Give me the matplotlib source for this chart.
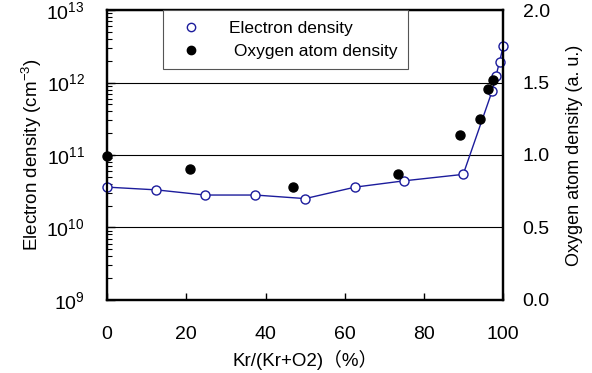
import matplotlib
matplotlib.use("Agg")
import matplotlib.pyplot as plt
from matplotlib.lines import Line2D

plt.rcParams['font.family'] = ['Liberation Sans', 'Noto Sans CJK JP', 'DejaVu Sans']
plt.rcParams['mathtext.fontset'] = 'custom'
plt.rcParams['mathtext.rm'] = 'Liberation Sans'
plt.rcParams['mathtext.it'] = 'Liberation Sans:italic'

# electron density (left axis, log)
kr_e = [0, 12.4, 24.7, 37.4, 50, 62.6, 75, 89.9, 97.2, 98.2, 99.1, 100]
ne = [3.6e10, 3.3e10, 2.8e10, 2.8e10, 2.5e10, 3.6e10, 4.4e10, 5.4e10,
      7.6e11, 1.25e12, 1.95e12, 3.2e12]

# oxygen atom density (right axis, a.u.)
kr_o = [0, 21, 47, 73.5, 89, 94.2, 96.2, 97.4]
no = [0.99, 0.90, 0.78, 0.87, 1.14, 1.25, 1.455, 1.52]

fig = plt.figure(figsize=(5.92, 3.73), dpi=100)
ax = fig.add_axes([0.181, 0.196, 0.669, 0.777])
ax2 = ax.twinx()

ax.set_yscale('log')
ax.set_ylim(1e9, 1e13)
ax.set_xlim(0, 100)
ax.set_xticks([0, 20, 40, 60, 80, 100])
ax.grid(True, axis='y', which='major', color='black', lw=0.8)
ax.set_axisbelow(True)

ln, = ax.plot(kr_e, ne, '-o', color='#1c1c9c', lw=1.0, ms=6.5,
              mfc='white', mec='#1c1c9c', mew=1.0, zorder=3, clip_on=False)

ax2.set_ylim(0, 2.0)
ax2.set_yticks([0, 0.5, 1.0, 1.5, 2.0])
ax2.set_yticklabels(['0.0', '0.5', '1.0', '1.5', '2.0'])
ax2.plot(kr_o, no, 'o', color='black', ms=6.5, zorder=4, clip_on=False)

ax.tick_params(axis='x', direction='in', length=5, width=1, labelsize=14, pad=19)
ax.tick_params(axis='y', which='major', direction='in', length=6, width=1, labelsize=14, pad=16)
ax.tick_params(axis='y', which='minor', direction='in', length=3.5, width=0.8)
ax2.tick_params(axis='y', length=0, labelsize=14, pad=14)

for sp in ax.spines.values():
    sp.set_linewidth(1.6)
for sp in ax2.spines.values():
    sp.set_linewidth(1.6)

ax.set_xlabel('Kr/(Kr+O2)（%）', fontsize=13.5, labelpad=5)
ax.set_ylabel('Electron density (cm$^{-3}$)', fontsize=13.5, labelpad=2)
ax2.set_ylabel('Oxygen atom density (a. u.)', fontsize=13, labelpad=12)

handles = [Line2D([], [], ls='none', marker='o', ms=6, mfc='white', mec='#1c1c9c'),
           Line2D([], [], ls='none', marker='o', ms=6, color='black')]
leg = ax2.legend(handles, ['Electron density', ' Oxygen atom density'],
                 loc='upper left', bbox_to_anchor=(0.142, 1.0), fontsize=12.5,
                 borderaxespad=0, fancybox=False, framealpha=1, edgecolor='#555555',
                 borderpad=0.6, handletextpad=1.2, labelspacing=0.45)
leg.get_frame().set_linewidth(0.8)

fig.savefig('out.png', dpi=100)
